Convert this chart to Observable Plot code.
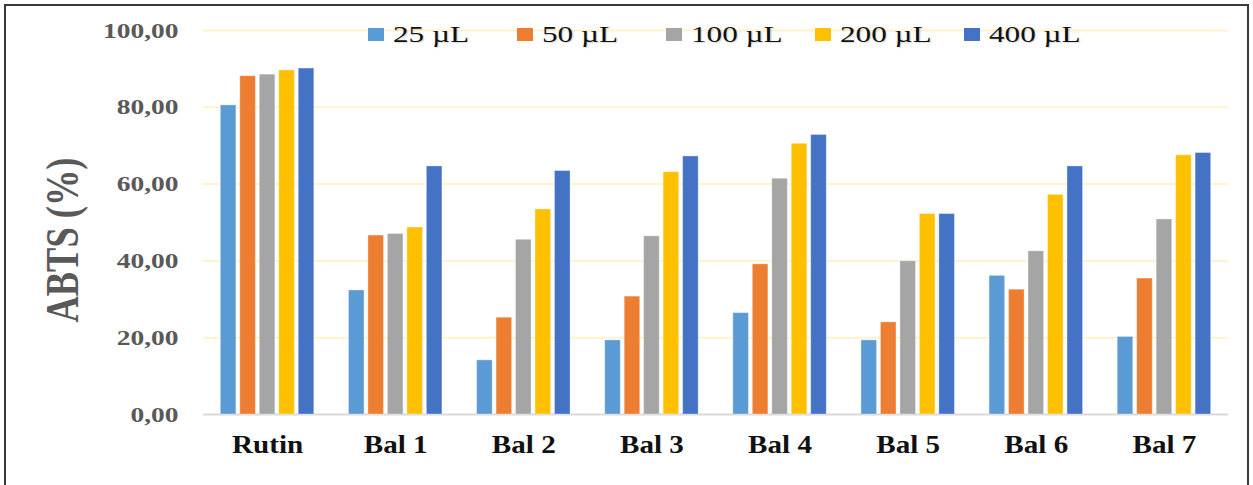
<!DOCTYPE html>
<html>
<head>
<meta charset="utf-8">
<script src="https://cdn.jsdelivr.net/npm/d3@7"></script>
<script src="https://cdn.jsdelivr.net/npm/@observablehq/plot@0.6"></script>
<style>
html, body { margin: 0; padding: 0; background: #fff; overflow: hidden; }
#wrap { position: relative; width: 1253px; height: 485px; background: #fff; }
#wrap svg { position: absolute; left: 0; top: 0; }
#border { position: absolute; left: 4px; top: 4px; width: 1245px; height: 520px; border: 2px solid #3a3a3a; box-sizing: border-box; pointer-events: none; }
#legend { position: absolute; left: 368px; top: 21px; display: flex; font-family: "Liberation Serif", "Times New Roman", serif; font-size: 24px; color: #111; line-height: 27px; }
.item { width: 149px; display: flex; align-items: center; }
.sw { width: 16px; height: 13px; margin-right: 9px; flex: none; }
.lab { display: inline-block; transform: scaleX(1.3); transform-origin: left center; white-space: nowrap; text-shadow: 1px 1px 1px rgba(0,0,0,0.15); }
</style>
</head>
<body>
<div id="wrap">
  <div id="legend"></div>
  <div id="border"></div>
</div>
<script>
// ---- data ----
const categories = ["Rutin", "Bal 1", "Bal 2", "Bal 3", "Bal 4", "Bal 5", "Bal 6", "Bal 7"];
const series = ["25 µL", "50 µL", "100 µL", "200 µL", "400 µL"];
const v25  = [80.5, 32.3, 14.1, 19.3, 26.4, 19.3, 36.1, 20.2];
const v50  = [88.1, 46.6, 25.2, 30.7, 39.1, 24.0, 32.5, 35.4];
const v100 = [88.5, 47.0, 45.5, 46.4, 61.4, 39.9, 42.5, 50.8];
const v200 = [89.6, 48.7, 53.4, 63.1, 70.5, 52.2, 57.2, 67.5];
const v400 = [90.1, 64.6, 63.4, 67.2, 72.8, 52.2, 64.6, 68.1];
const yTicks = [0, 20, 40, 60, 80, 100];
const yTitle = "ABTS (%)";
const colors = ["#5B9BD5", "#ED7D31", "#A5A5A5", "#FFC000", "#4472C4"];

const seriesValues = [v25, v50, v100, v200, v400];
const table = series.flatMap((s, i) =>
  categories.map((c, j) => ({category: c, series: s, value: seriesValues[i][j]})));

const W = 1253, H = 485;
const M = {marginLeft: 203, marginRight: 25, marginTop: 30, marginBottom: 71};
const fmt = d => d.toFixed(2).replace(".", ",");
const serif = "'Liberation Serif', 'Times New Roman', serif";

// grid, axes, title
const base = Plot.plot({
  width: W, height: H, ...M,
  style: {background: "transparent", fontFamily: serif, overflow: "visible"},
  x: {domain: categories, paddingInner: 0.24, paddingOuter: 0.12, round: false},
  y: {domain: [0, 100]},
  marks: [
    Plot.ruleY(yTicks.filter(d => d > 0), {stroke: "#FFF2CC", strokeWidth: 2}),
    Plot.ruleY([0], {stroke: "#D9D9D9", strokeWidth: 2}),
    Plot.axisY({ticks: yTicks, tickSize: 0, tickPadding: 25, tickFormat: fmt,
      fontSize: 22, fontWeight: "bold", color: "#595959", label: null}),
    Plot.axisX({tickSize: 0, tickPadding: 20, fontSize: 26, fontWeight: "bold",
      color: "#111", label: null}),
    Plot.text([yTitle], {text: d => d, frameAnchor: "left", textAnchor: "start",
      dx: -140, dy: 100, rotate: -90,
      fontSize: 46, fontWeight: "bold", fill: "#595959"})
  ]
});

// grouped bars
const bars = Plot.plot({
  width: W, height: H, ...M,
  style: {background: "transparent", overflow: "visible"},
  fx: {domain: categories, paddingInner: 0.24, paddingOuter: 0.12, axis: null, label: null, round: false},
  x: {domain: series, paddingInner: 0.2, paddingOuter: 0.1, axis: null, round: false},
  y: {domain: [0, 100], axis: null},
  color: {domain: series, range: colors},
  marks: [
    Plot.barY(table, {fx: "category", x: "series", y: "value", fill: "series",
      stroke: "#ffffff", strokeOpacity: 0.35, strokeWidth: 1})
  ]
});

const wrap = document.getElementById("wrap");
wrap.insertBefore(bars, wrap.firstChild);
wrap.insertBefore(base, wrap.firstChild);

// legend
const legend = d3.select("#legend");
series.forEach((s, i) => {
  const it = legend.append("div").attr("class", "item");
  it.append("div").attr("class", "sw").style("background", colors[i]);
  it.append("span").attr("class", "lab").text(s);
});

// horizontal stretch of text, as in the reference
function stretch(sel, k) {
  sel.each(function () {
    const L = this.getComputedTextLength();
    if (L > 0) {
      this.setAttribute("textLength", L * k);
      this.setAttribute("lengthAdjust", "spacingAndGlyphs");
    }
  });
}
stretch(d3.select(base).selectAll('g[aria-label="y-axis tick label"] text'), 1.25);
stretch(d3.select(base).selectAll('g[aria-label="x-axis tick label"] text'), 1.12);
d3.select(base).selectAll("text")
  .filter(function () { return this.textContent === yTitle; })
  .attr("textLength", 165).attr("lengthAdjust", "spacingAndGlyphs");
</script>
</body>
</html>
